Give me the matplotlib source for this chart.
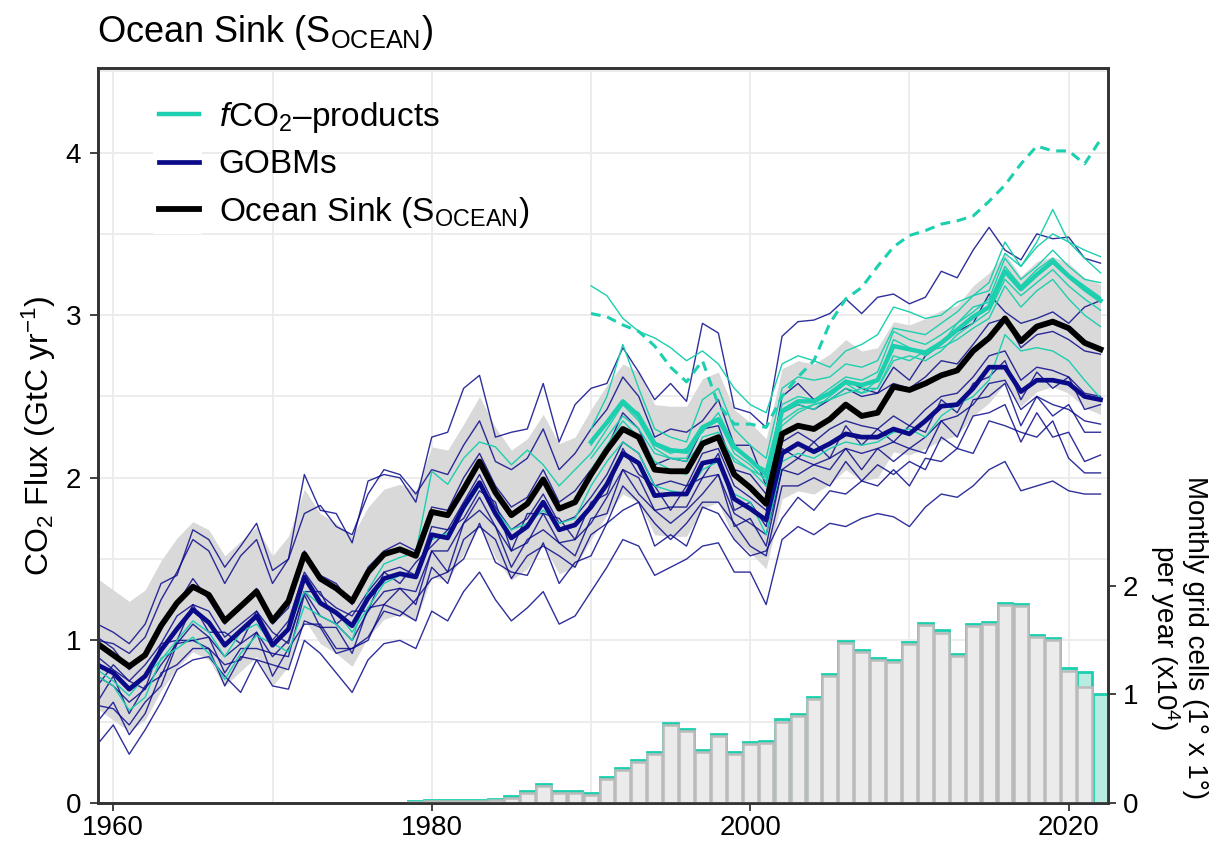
import numpy as np
import matplotlib
matplotlib.use("Agg")
import matplotlib.pyplot as plt
from matplotlib.patches import Rectangle
from matplotlib.ticker import MultipleLocator

plt.rcParams['font.family'] = ['Liberation Sans', 'DejaVu Sans']
plt.rcParams['mathtext.fontset'] = 'custom'
plt.rcParams['mathtext.rm'] = 'Liberation Sans'
plt.rcParams['mathtext.it'] = 'Liberation Sans:italic'
plt.rcParams['mathtext.bf'] = 'Liberation Sans:bold'

# --- data (GtC/yr) ---
years = np.arange(1959, 2023)
years_fco2 = np.arange(1990, 2023)
bar_years = np.arange(1979, 2023)

ocean_sink = [0.98, 0.91, 0.84, 0.91, 1.09, 1.23, 1.33, 1.28, 1.12, 1.21,
              1.30, 1.12, 1.24, 1.53, 1.38, 1.32, 1.24, 1.42, 1.53, 1.56,
              1.52, 1.79, 1.77, 1.93, 2.10, 1.91, 1.77, 1.84, 1.99, 1.81,
              1.85, 2.02, 2.17, 2.30, 2.25, 2.05, 2.04, 2.04, 2.21, 2.25,
              2.02, 1.94, 1.84, 2.27, 2.32, 2.30, 2.36, 2.45, 2.38, 2.40,
              2.56, 2.54, 2.58, 2.63, 2.66, 2.78, 2.86, 2.98, 2.84, 2.93,
              2.96, 2.92, 2.83, 2.79]
sink_uncertainty = 0.4

gobm_mean = [0.85, 0.80, 0.70, 0.78, 0.94, 1.07, 1.19, 1.11, 0.97, 1.06,
             1.15, 0.97, 1.07, 1.39, 1.23, 1.17, 1.09, 1.26, 1.38, 1.41,
             1.39, 1.65, 1.63, 1.82, 1.97, 1.78, 1.63, 1.70, 1.85, 1.68,
             1.71, 1.82, 1.96, 2.15, 2.09, 1.89, 1.90, 1.90, 2.09, 2.11,
             1.87, 1.81, 1.74, 2.15, 2.21, 2.16, 2.21, 2.27, 2.25, 2.25,
             2.30, 2.27, 2.35, 2.44, 2.45, 2.55, 2.68, 2.68, 2.53, 2.60,
             2.60, 2.58, 2.50, 2.48]

fco2_mean = [2.22, 2.34, 2.47, 2.38, 2.21, 2.17, 2.16, 2.31, 2.36, 2.19,
             2.11, 2.02, 2.41, 2.47, 2.47, 2.52, 2.59, 2.57, 2.60, 2.81,
             2.79, 2.77, 2.83, 2.91, 2.99, 3.05, 3.27, 3.16, 3.25, 3.33,
             3.24, 3.16, 3.09]

# individual ocean models (1959-2022)
gobm_models = [
    [1.10, 1.05, 0.98, 1.10, 1.35, 1.40, 1.68, 1.62, 1.45, 1.58,
     1.72, 1.43, 1.50, 2.02, 1.80, 1.78, 1.60, 1.98, 2.02, 2.00,
     1.85, 2.25, 2.28, 2.55, 2.63, 2.25, 2.28, 2.30, 2.58, 2.22,
     2.45, 2.55, 2.58, 2.80, 2.65, 2.48, 2.58, 2.47, 2.95, 2.89,
     2.43, 2.40, 2.31, 2.87, 2.96, 2.97, 3.01, 3.10, 3.01, 3.11,
     3.13, 3.07, 3.11, 3.27, 3.23, 3.40, 3.54, 3.40, 3.34, 3.50,
     3.47, 3.48, 3.35, 3.32],
    [1.00, 0.98, 0.92, 1.02, 1.25, 1.42, 1.62, 1.55, 1.35, 1.52,
     1.62, 1.35, 1.50, 1.78, 1.83, 1.70, 1.65, 1.90, 2.05, 2.02,
     1.90, 2.05, 2.02, 2.20, 2.35, 2.10, 2.05, 2.12, 2.30, 2.05,
     2.15, 2.30, 2.42, 2.62, 2.50, 2.25, 2.30, 2.28, 2.35, 2.48,
     2.20, 2.20, 1.95, 2.50, 2.58, 2.48, 2.52, 2.60, 2.55, 2.52,
     2.68, 2.60, 2.75, 2.82, 2.90, 2.95, 3.13, 3.02, 2.95, 2.98,
     3.02, 2.95, 3.05, 3.09],
    [1.02, 0.95, 0.82, 0.92, 1.10, 1.22, 1.38, 1.25, 1.10, 1.22,
     1.32, 1.10, 1.20, 1.55, 1.40, 1.35, 1.22, 1.45, 1.55, 1.60,
     1.55, 1.82, 1.80, 2.00, 2.15, 1.95, 1.82, 1.88, 2.05, 1.85,
     1.92, 2.05, 2.18, 2.40, 2.30, 2.08, 2.12, 2.10, 2.30, 2.32,
     2.05, 2.02, 1.90, 2.40, 2.45, 2.42, 2.48, 2.55, 2.50, 2.52,
     2.58, 2.55, 2.62, 2.72, 2.70, 2.82, 2.95, 2.98, 2.80, 2.88,
     2.90, 2.85, 2.78, 2.76],
    [0.90, 0.82, 0.75, 0.85, 0.98, 1.15, 1.22, 1.18, 1.02, 1.10,
     1.18, 1.00, 1.12, 1.42, 1.28, 1.20, 1.15, 1.30, 1.42, 1.45,
     1.40, 1.70, 1.68, 1.85, 2.02, 1.82, 1.68, 1.75, 1.90, 1.72,
     1.76, 1.88, 2.02, 2.22, 2.15, 1.95, 1.98, 1.95, 2.15, 2.18,
     1.95, 1.88, 1.80, 2.22, 2.28, 2.22, 2.30, 2.35, 2.32, 2.30,
     2.38, 2.32, 2.42, 2.50, 2.52, 2.62, 2.75, 2.78, 2.60, 2.68,
     2.66, 2.62, 2.52, 2.50],
    [0.72, 0.85, 0.75, 0.70, 0.98, 1.00, 1.22, 1.05, 1.05, 0.98,
     1.18, 1.05, 0.98, 1.30, 1.30, 1.10, 1.18, 1.18, 1.42, 1.35,
     1.48, 1.58, 1.68, 1.75, 1.92, 1.85, 1.55, 1.78, 1.78, 1.75,
     1.62, 1.85, 1.90, 2.18, 2.02, 1.95, 1.80, 1.95, 2.00, 2.15,
     1.80, 1.85, 1.70, 2.18, 2.12, 2.22, 2.12, 2.32, 2.20, 2.30,
     2.22, 2.32, 2.28, 2.48, 2.40, 2.58, 2.62, 2.72, 2.48, 2.65,
     2.55, 2.62, 2.42, 2.45],
    [0.78, 0.72, 0.62, 0.70, 0.85, 0.98, 1.10, 1.02, 0.90, 0.98,
     1.05, 0.90, 1.00, 1.30, 1.15, 1.10, 1.00, 1.18, 1.30, 1.32,
     1.30, 1.55, 1.55, 1.72, 1.88, 1.70, 1.55, 1.60, 1.78, 1.60,
     1.62, 1.72, 1.88, 2.05, 2.00, 1.80, 1.82, 1.82, 2.00, 2.02,
     1.78, 1.72, 1.65, 2.05, 2.12, 2.08, 2.12, 2.18, 2.15, 2.18,
     2.22, 2.18, 2.25, 2.35, 2.38, 2.45, 2.58, 2.60, 2.42, 2.50,
     2.45, 2.42, 2.35, 2.33],
    [0.62, 0.78, 0.55, 0.72, 0.78, 1.00, 1.00, 1.02, 0.80, 0.95,
     0.95, 0.92, 0.90, 1.28, 1.08, 1.08, 0.92, 1.20, 1.22, 1.32,
     1.22, 1.55, 1.42, 1.72, 1.80, 1.70, 1.45, 1.62, 1.68, 1.60,
     1.52, 1.75, 1.78, 2.05, 1.90, 1.80, 1.72, 1.80, 1.90, 2.02,
     1.70, 1.75, 1.58, 2.05, 2.02, 2.08, 2.05, 2.18, 2.05, 2.18,
     2.10, 2.18, 2.15, 2.35, 2.25, 2.48, 2.50, 2.58, 2.32, 2.50,
     2.38, 2.45, 2.28, 2.28],
    [0.50, 0.62, 0.42, 0.55, 0.80, 0.85, 0.95, 0.95, 0.72, 0.90,
     0.88, 0.85, 0.82, 1.12, 1.08, 0.92, 0.95, 1.00, 1.22, 1.18,
     1.12, 1.45, 1.35, 1.62, 1.70, 1.62, 1.38, 1.52, 1.58, 1.52,
     1.45, 1.65, 1.72, 1.95, 1.85, 1.72, 1.62, 1.72, 1.85, 1.85,
     1.72, 1.58, 1.52, 1.95, 1.95, 2.00, 1.95, 2.10, 1.98, 2.08,
     2.02, 2.10, 2.05, 2.25, 2.18, 2.38, 2.40, 2.45, 2.22, 2.40,
     2.25, 2.28, 2.10, 2.14],
    [0.60, 0.58, 0.48, 0.62, 0.72, 0.98, 1.00, 0.95, 0.85, 0.88,
     1.05, 0.78, 0.95, 1.10, 1.10, 0.95, 0.95, 1.02, 1.18, 1.15,
     1.25, 1.38, 1.42, 1.50, 1.72, 1.48, 1.42, 1.40, 1.60, 1.35,
     1.48, 1.52, 1.72, 1.80, 1.85, 1.58, 1.65, 1.58, 1.82, 1.78,
     1.62, 1.52, 1.55, 1.75, 1.88, 1.80, 1.92, 1.90, 1.98, 1.95,
     2.05, 1.95, 2.12, 2.10, 2.18, 2.15, 2.35, 2.32, 2.28, 2.25,
     2.35, 2.12, 2.03, 2.03],
    [0.36, 0.48, 0.30, 0.45, 0.62, 0.82, 0.88, 0.90, 0.78, 0.68,
     0.88, 0.72, 0.70, 1.00, 0.92, 0.80, 0.68, 0.88, 0.98, 1.00,
     0.95, 1.18, 1.12, 1.30, 1.42, 1.25, 1.12, 1.20, 1.30, 1.10,
     1.15, 1.30, 1.45, 1.62, 1.58, 1.40, 1.45, 1.50, 1.58, 1.60,
     1.42, 1.42, 1.22, 1.62, 1.70, 1.65, 1.72, 1.70, 1.75, 1.78,
     1.76, 1.70, 1.82, 1.90, 1.88, 1.95, 2.05, 2.10, 1.92, 1.95,
     1.98, 1.92, 1.90, 1.90],
]

# fCO2-products reaching back to 1959
fco2_long = [
    [0.78, 0.72, 0.57, 0.65, 0.89, 0.95, 1.02, 0.92, 0.76, 0.92,
     1.03, 0.98, 0.93, 1.21, 1.15, 1.10, 1.00, 1.31, 1.47, 1.51,
     1.54, 2.04, 1.96, 2.12, 2.22, 2.19, 2.08, 2.17, 2.08, 1.95,
     2.05, 2.15, 2.30, 2.45, 2.35, 2.18, 2.12, 2.12, 2.30, 2.35,
     2.15, 2.08, 1.98, 2.40, 2.45, 2.42, 2.50, 2.58, 2.52, 2.60,
     2.85, 2.80, 2.75, 2.82, 2.95, 3.02, 3.10, 3.35, 3.22, 3.30,
     3.40, 3.30, 3.22, 3.20],
    [0.82, 0.75, 0.66, 0.78, 0.88, 1.00, 1.12, 1.05, 0.90, 1.05,
     1.10, 0.98, 1.08, 1.30, 1.22, 1.18, 1.05, 1.20, 1.35, 1.40,
     1.40, 1.62, 1.66, 1.80, 1.95, 1.80, 1.68, 1.72, 1.80, 1.72,
     1.75, 1.95, 2.10, 2.22, 2.15, 1.95, 1.92, 1.90, 2.05, 2.10,
     1.90, 1.85, 1.65, 2.10, 2.15, 2.12, 2.18, 2.22, 2.20, 2.22,
     2.28, 2.30, 2.25, 2.38, 2.45, 2.50, 2.60, 2.88, 2.78, 2.80,
     2.78, 2.72, 2.60, 2.49],
]

# fCO2-products starting 1990
fco2_short = [
    [3.18, 3.12, 2.98, 2.90, 2.86, 2.80, 2.72, 2.78, 2.70, 2.55,
     2.45, 2.40, 2.70, 2.75, 2.72, 2.68, 2.78, 2.82, 2.88, 3.05,
     3.02, 2.98, 3.00, 3.08, 3.12, 3.15, 3.38, 3.30, 3.42, 3.50,
     3.45, 3.40, 3.36],
    [2.30, 2.50, 2.82, 2.55, 2.30, 2.25, 2.22, 2.48, 2.55, 2.30,
     2.20, 2.12, 2.55, 2.62, 2.60, 2.62, 2.70, 2.68, 2.72, 2.92,
     2.90, 2.88, 2.95, 3.02, 3.12, 3.20, 3.45, 3.30, 3.45, 3.65,
     3.45, 3.35, 3.26],
    [2.20, 2.35, 2.45, 2.40, 2.20, 2.15, 2.18, 2.28, 2.40, 2.20,
     2.10, 2.05, 2.45, 2.50, 2.48, 2.55, 2.62, 2.60, 2.65, 2.90,
     2.85, 2.82, 2.88, 2.95, 3.05, 3.08, 3.30, 3.18, 3.28, 3.35,
     3.25, 3.18, 3.11],
    [2.05, 2.20, 2.35, 2.25, 2.10, 2.05, 2.02, 2.25, 2.28, 2.10,
     2.05, 1.95, 2.35, 2.42, 2.45, 2.48, 2.55, 2.52, 2.55, 2.72,
     2.75, 2.72, 2.78, 2.88, 2.95, 3.02, 3.22, 3.12, 3.20, 3.28,
     3.18, 3.10, 3.03],
    [2.12, 2.25, 2.38, 2.30, 2.15, 2.12, 2.10, 2.22, 2.25, 2.12,
     2.05, 2.00, 2.32, 2.40, 2.45, 2.48, 2.52, 2.55, 2.55, 2.75,
     2.72, 2.78, 2.80, 2.85, 2.92, 2.98, 3.18, 3.05, 3.15, 3.22,
     3.10, 3.00, 2.93],
]

fco2_dashed = [3.01, 2.99, 2.94, 2.90, 2.81, 2.68, 2.59, 2.72, 2.45, 2.33,
               2.33, 2.31, 2.50, 2.62, 2.72, 2.95, 3.10, 3.17, 3.30, 3.42,
               3.49, 3.52, 3.56, 3.58, 3.61, 3.70, 3.80, 3.93, 4.04, 4.01,
               4.01, 3.93, 4.08]

# monthly 1x1 grid cells per year (x 10^4)
cells_new = [0.02, 0.03, 0.03, 0.03, 0.03, 0.04, 0.065, 0.11, 0.175, 0.11,
             0.11, 0.095, 0.24, 0.32, 0.40, 0.47, 0.74, 0.68, 0.49, 0.64,
             0.47, 0.56, 0.57, 0.77, 0.82, 0.98, 1.19, 1.49, 1.41, 1.34,
             1.32, 1.48, 1.66, 1.59, 1.37, 1.65, 1.67, 1.84, 1.83, 1.55,
             1.52, 1.24, 1.21, 1.00]
cells_prev = [0.01, 0.02, 0.02, 0.02, 0.02, 0.03, 0.05, 0.09, 0.155, 0.09,
              0.09, 0.075, 0.22, 0.30, 0.38, 0.45, 0.72, 0.66, 0.47, 0.62,
              0.45, 0.54, 0.55, 0.75, 0.80, 0.96, 1.17, 1.47, 1.39, 1.32,
              1.30, 1.46, 1.64, 1.57, 1.35, 1.63, 1.65, 1.82, 1.81, 1.53,
              1.50, 1.22, 1.07, 0.0]

teal = '#1ccfae'
navy = '#0b0b8a'

fig = plt.figure(figsize=(12.15, 8.5), dpi=100)
ax = fig.add_axes([98 / 1215, 47 / 850, 1010 / 1215, 735 / 850])

ax.set_xlim(1959.04, 2022.47)
ax.set_ylim(0, 4.52)

# uncertainty band
sink = np.array(ocean_sink)
ax.fill_between(years, sink - sink_uncertainty, sink + sink_uncertainty,
                color='#d9d9d9', lw=0, zorder=1)

for m in gobm_models:
    ax.plot(years, m, color=navy, lw=1.0, alpha=0.85, zorder=2)
for p in fco2_long:
    ax.plot(years, p, color=teal, lw=1.0, zorder=3)
for p in fco2_short:
    ax.plot(years_fco2, p, color=teal, lw=1.0, zorder=3)
ax.plot(years_fco2, fco2_dashed, color=teal, lw=2.2, dashes=(3.2, 2.2), zorder=3)

ax.plot(years_fco2, fco2_mean, color=teal, lw=3.2, zorder=4,
        label='$f$CO$_2$–products')
ax.plot(years, gobm_mean, color=navy, lw=3.4, zorder=4, label='GOBMs')
ax.plot(years, ocean_sink, color='black', lw=4.2, zorder=5,
        label='Ocean Sink (S$_{\\mathrm{OCEAN}}$)')

# grid and frame
ax.set_axisbelow(True)
ax.xaxis.set_major_locator(MultipleLocator(20))
ax.xaxis.set_minor_locator(MultipleLocator(10))
ax.yaxis.set_major_locator(MultipleLocator(1))
ax.yaxis.set_minor_locator(MultipleLocator(0.5))
ax.grid(which='both', color='#ebebeb', lw=1.3)
ax.tick_params(which='major', length=5.5, width=1.3, color='#333333',
               labelsize=20)
ax.tick_params(axis='x', pad=3)
ax.tick_params(axis='y', pad=6.5)
ax.tick_params(which='minor', length=0)
for s in ax.spines.values():
    s.set_color('#333333')
    s.set_linewidth(1.9)

ax.set_ylabel('CO$_2$ Flux (GtC yr$^{-1}$)', fontsize=23, labelpad=6)

# white boxes behind legend keys
ax.add_patch(Rectangle((0.0545, 0.774), 0.0485, 0.199, transform=ax.transAxes,
                       facecolor='white', edgecolor='none', zorder=0.8))
ax.legend(loc='upper left', bbox_to_anchor=(0.06, 0.957), frameon=False,
          fontsize=24, handlelength=1.2, handletextpad=0.6, labelspacing=0.44,
          borderpad=0, borderaxespad=0)

# data coverage bars on the secondary axis
ax2 = ax.twinx()
ax2.set_ylim(0, 6.77)
ax2.bar(bar_years, cells_new, width=0.92, facecolor='#b9ece1', edgecolor=teal,
        lw=2.0, zorder=1)
ax2.bar(bar_years, cells_prev, width=0.92, facecolor='#ebebeb',
        edgecolor='#bbbbbb', lw=1.8, zorder=2)
ax2.set_yticks([0, 1, 2])
ax2.tick_params(length=5.5, width=1.3, color='#333333', labelsize=20, pad=5)
for s in ax2.spines.values():
    s.set_color('#333333')
    s.set_linewidth(1.9)
ax2.text(1.069, 0.225, 'Monthly grid cells (1° x 1°)\nper year (x10$^4$)',
         transform=ax2.transAxes, rotation=270, ha='center', va='center',
         fontsize=20, linespacing=1.0)

fig.text(97 / 1215, 1 - 33 / 850, 'Ocean Sink (S$_{\\mathrm{OCEAN}}$)',
         fontsize=26, va='center', ha='left')

fig.savefig('out.png', dpi=100)
